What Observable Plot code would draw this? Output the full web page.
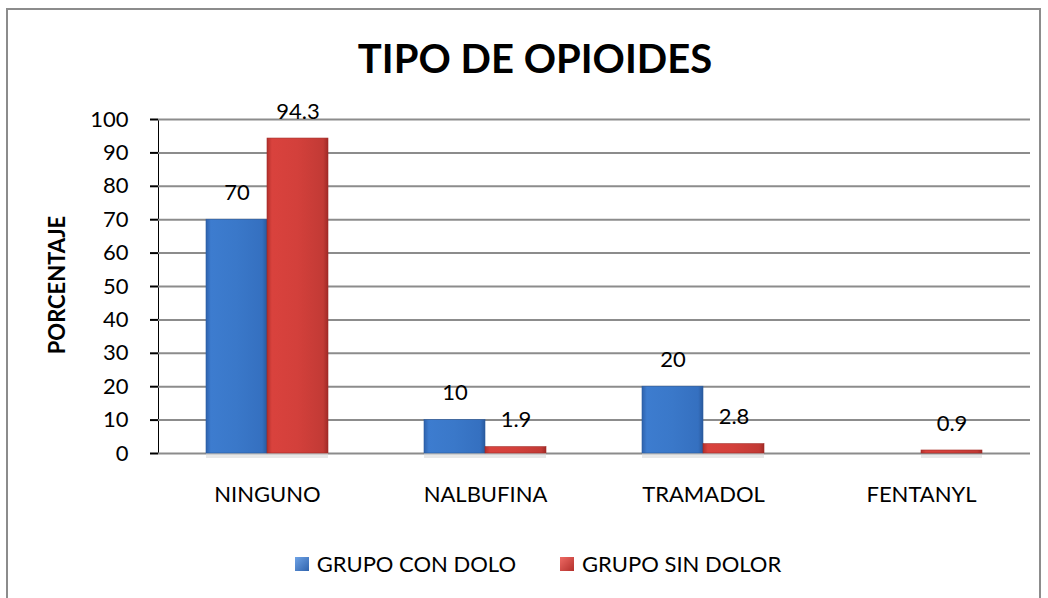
<!DOCTYPE html>
<html><head><meta charset="utf-8">
<script src="https://cdn.jsdelivr.net/npm/d3@7"></script>
<script src="https://cdn.jsdelivr.net/npm/@observablehq/plot@0.6"></script>
<style>
body{margin:0;background:#fff;font-family:Lato,"Open Sans",sans-serif;}
#wrap{position:relative;width:1048px;height:598px;overflow:hidden;background:#fff;}
#frame{position:absolute;left:6px;top:8px;width:1035px;height:640px;border:2px solid #8c8c8c;box-sizing:border-box;}
#title{position:absolute;top:35px;left:0;width:1070px;text-align:center;font-weight:bold;font-size:40px;line-height:46px;color:#000;}
#ylab{position:absolute;left:56px;top:285px;transform:translate(-50%,-50%) rotate(-90deg);font-weight:bold;font-size:22px;white-space:nowrap;}
#legend{position:absolute;top:550px;left:14px;width:1048px;display:flex;justify-content:center;gap:44px;font-size:22px;}
#legend span{display:inline-flex;align-items:center;gap:8px;}
#legend i{display:inline-block;width:14px;height:14px;}
#chart{position:absolute;left:0;top:0;}
</style></head>
<body>
<div id="wrap">
  <div id="frame"></div>
  <div id="chart"></div>
  <div id="title"></div>
  <div id="ylab"></div>
  <div id="legend"></div>
</div>
<script>
const title = "TIPO DE OPIOIDES";
const yLabel = "PORCENTAJE";
const categories = ["NINGUNO", "NALBUFINA", "TRAMADOL", "FENTANYL"];
const groups = ["GRUPO CON DOLO", "GRUPO SIN DOLOR"];
const conDolor = [70, 10, 20, 0];
const sinDolor = [94.3, 1.9, 2.8, 0.9];
const yTicks = [0, 10, 20, 30, 40, 50, 60, 70, 80, 90, 100];
const fills = ["url(#gBlue)", "url(#gRed)"];
const swatch = ["linear-gradient(135deg,#6fa3e6,#2f63ad)", "linear-gradient(135deg,#ee6a64,#b3302c)"];

const data = categories.flatMap((c, i) => [
  {cat: c, grupo: groups[0], v: conDolor[i]},
  {cat: c, grupo: groups[1], v: sinDolor[i]}
]);

document.getElementById("title").textContent = title;
document.getElementById("ylab").textContent = yLabel;
const leg = document.getElementById("legend");
groups.forEach((g, i) => {
  const s = document.createElement("span");
  s.innerHTML = `<i style="background:${swatch[i]}"></i>${g}`;
  leg.appendChild(s);
});

const plot = Plot.plot({
  width: 1048, height: 598,
  marginTop: 119, marginBottom: 145, marginLeft: 158, marginRight: 18,
  style: {fontFamily: "Lato, 'Open Sans', sans-serif", fontSize: "22px", color: "#000", background: "transparent"},
  fx: {domain: categories, padding: 0, label: null, axis: "bottom", tickSize: 0, tickPadding: 33},
  x: {domain: groups, axis: null, paddingInner: 0, paddingOuter: 0.76},
  y: {domain: [0, 100], ticks: yTicks, tickSize: 8, tickPadding: 22, label: null, line: true},
  marks: [
    Plot.ruleY(yTicks, {stroke: "#8c8c8c", strokeWidth: 2}),
    Plot.barY(data.filter(d => d.v > 0), {fx: "cat", x: "grupo", y: "v", dy: 5, fill: "#d9d9d9", fillOpacity: 0.6}),
    Plot.barY(data.filter(d => d.grupo === groups[0] && d.v > 0), {fx: "cat", x: "grupo", y: "v", fill: fills[0], stroke: "#2a5a9e", strokeWidth: 0.6}),
    Plot.barY(data.filter(d => d.grupo === groups[1] && d.v > 0), {fx: "cat", x: "grupo", y: "v", fill: fills[1], stroke: "#a02a26", strokeWidth: 0.6}),
    Plot.text(data.filter(d => d.v > 0), {fx: "cat", x: "grupo", y: "v", text: d => String(d.v), dy: -27, fontSize: 22, fill: "#000"})
  ]
});

const svgNS = "http://www.w3.org/2000/svg";
const defs = document.createElementNS(svgNS, "defs");
defs.innerHTML = `
<linearGradient id="gBlue" x1="0" x2="1" y1="0" y2="0">
  <stop offset="0" stop-color="#2e62ad"/><stop offset="0.08" stop-color="#3d7ccf"/>
  <stop offset="0.5" stop-color="#3a78c9"/><stop offset="0.92" stop-color="#3570c0"/><stop offset="1" stop-color="#2a5a9e"/>
</linearGradient>
<linearGradient id="gRed" x1="0" x2="1" y1="0" y2="0">
  <stop offset="0" stop-color="#b3302c"/><stop offset="0.08" stop-color="#d9423d"/>
  <stop offset="0.5" stop-color="#d3403b"/><stop offset="0.92" stop-color="#c23a35"/><stop offset="1" stop-color="#a02a26"/>
</linearGradient>`;
plot.insertBefore(defs, plot.firstChild);
plot.querySelectorAll('[aria-label="y-axis tick"], [aria-label="y-axis line"], [aria-label="y-axis domain"]').forEach(g => { g.setAttribute("stroke", "#8c8c8c"); g.setAttribute("stroke-width", "2"); });
document.getElementById("chart").appendChild(plot);
</script>
</body></html>
